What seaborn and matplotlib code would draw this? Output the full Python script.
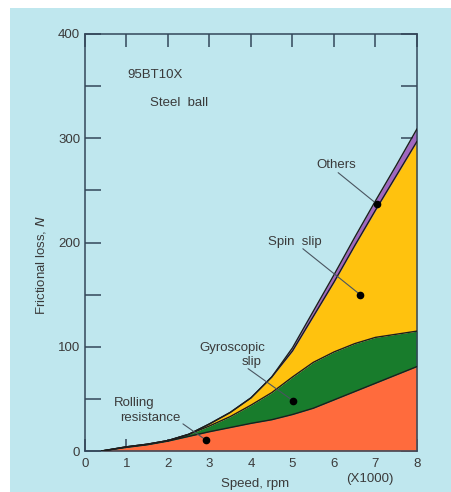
import numpy as np
import pandas as pd
import matplotlib
matplotlib.use("Agg")
import matplotlib.pyplot as plt
import seaborn as sns
from matplotlib.patches import Rectangle

# Speed in thousands of rpm and the frictional loss of each component (N)
speed_k = [0.4, 1, 1.5, 2, 2.5, 3, 3.5, 4, 4.5, 5, 5.5, 6, 6.5, 7, 7.5, 8]
rolling_resistance = [0, 3.5, 6, 9.5, 14, 18.5, 22.5, 26.5, 30, 35, 41, 49, 57, 65, 73, 81]
gyroscopic_slip = [0, 0.5, 0.5, 0.5, 2, 5.5, 10.5, 17.5, 26, 36, 44, 46, 46, 44, 39, 34]
spin_slip = [0, 0, 0, 0, 0, 2, 4, 7, 15, 25, 44, 67, 94, 122, 152, 182]
others = [0, 0, 0, 0, 0, 0, 0, 0, 0, 3, 5, 7, 8, 9, 10, 12]

x_ticks = [0, 1, 2, 3, 4, 5, 6, 7, 8]
y_ticks = [0, 50, 100, 150, 200, 250, 300, 350, 400]
y_tick_labels = ["0", "", "100", "", "200", "", "300", "", "400"]

layer_names = ["Rolling resistance", "Gyroscopic slip", "Spin slip", "Others"]
layer_colors = ["#ff6b3d", "#187c2c", "#ffc20e", "#a066bf"]

sns.set_theme(style="ticks")
plt.rcParams["font.family"] = ["Liberation Sans", "DejaVu Sans"]

bg = "#bfe7ee"
ink = "#3a3a3a"
frame = "#33475a"

fig = plt.figure(figsize=(4.52, 4.92), dpi=100, facecolor="white")
fig.patches.append(Rectangle((10 / 452, 0), 1 - 10 / 452, 484 / 492,
                             transform=fig.transFigure, facecolor=bg,
                             edgecolor="none", zorder=-10))
ax = fig.add_axes([85 / 452, 41 / 492, 332 / 452, 417 / 492])
ax.set_zorder(1)
ax.set_facecolor(bg)

# Stack the components and draw each band with a dark outline
layers = np.array([rolling_resistance, gyroscopic_slip, spin_slip, others], dtype=float)
tops = np.cumsum(layers, axis=0)
bottoms = np.vstack([np.zeros(len(speed_k)), tops[:-1]])
for name, color, lo, hi in zip(layer_names, layer_colors, bottoms, tops):
    ax.fill_between(speed_k, lo, hi, color=color, linewidth=0, zorder=2)

edges = pd.DataFrame({
    "speed": np.tile(speed_k, len(layer_names)),
    "loss": tops.ravel(),
    "edge": np.repeat(layer_names, len(speed_k)),
})
sns.lineplot(data=edges, x="speed", y="loss", units="edge", estimator=None,
             color="#1d1d1d", linewidth=1.0, ax=ax, zorder=3, legend=False)

# Labels with leader lines pointing into each band
notes = [
    # text lines, text positions, leader start, marker
    (["Others"], [(6.05, 274)], (6.10, 267), (7.03, 237)),
    (["Spin  slip"], [(5.05, 200)], (5.25, 194), (6.63, 150)),
    (["Gyroscopic", "slip"], [(3.54, 99), (4.02, 85.5)], (3.93, 79), (5.02, 48)),
    (["Rolling", "resistance"], [(1.18, 46.5), (1.58, 32)], (2.36, 26), (2.91, 10.6)),
]
for lines, spots, start, dot in notes:
    for txt, (tx, ty) in zip(lines, spots):
        ax.text(tx, ty, txt, ha="center", va="center", fontsize=9.5,
                color=ink, zorder=5)
    ax.plot([start[0], dot[0]], [start[1], dot[1]], color="#4a5560",
            linewidth=0.8, zorder=4)
    ax.plot(dot[0], dot[1], marker="o", markersize=4.5, color="black", zorder=5)

ax.text(1.70, 361, "95BT10X", ha="center", va="center", fontsize=9.5, color=ink)
ax.text(2.27, 334, "Steel  ball", ha="center", va="center", fontsize=9.5, color=ink)

ax.set_xlim(0, 8)
ax.set_ylim(0, 400)
ax.set_xticks(x_ticks)
ax.set_xticklabels([str(t) for t in x_ticks])
ax.set_yticks(y_ticks)
ax.set_yticklabels(y_tick_labels)
ax.set_xlabel("")
ax.set_ylabel("")
ax.tick_params(axis="x", direction="in", length=9, width=1.1, top=True,
               colors=frame, labelcolor=ink, labelsize=9.5, pad=5)
ax.tick_params(axis="y", direction="in", length=11.5, width=1.1, right=True,
               colors=frame, labelcolor=ink, labelsize=9.5, pad=3.5)
for side in ax.spines.values():
    side.set_visible(True)
    side.set_color(frame)
    side.set_linewidth(1.1)

fig.text(41 / 452, 227 / 492, "Frictional loss, $\\it{N}$", rotation=90,
         ha="center", va="center", fontsize=9.5, color=ink)
fig.text(370 / 452, 13 / 492, "(X1000)", ha="center", va="center",
         fontsize=9.5, color=ink)
fig.text(255 / 452, 14 / 492, "Speed, rpm", ha="center", va="top",
         fontsize=9.5, color=ink)

fig.savefig("out.png", dpi=100, facecolor="white")
